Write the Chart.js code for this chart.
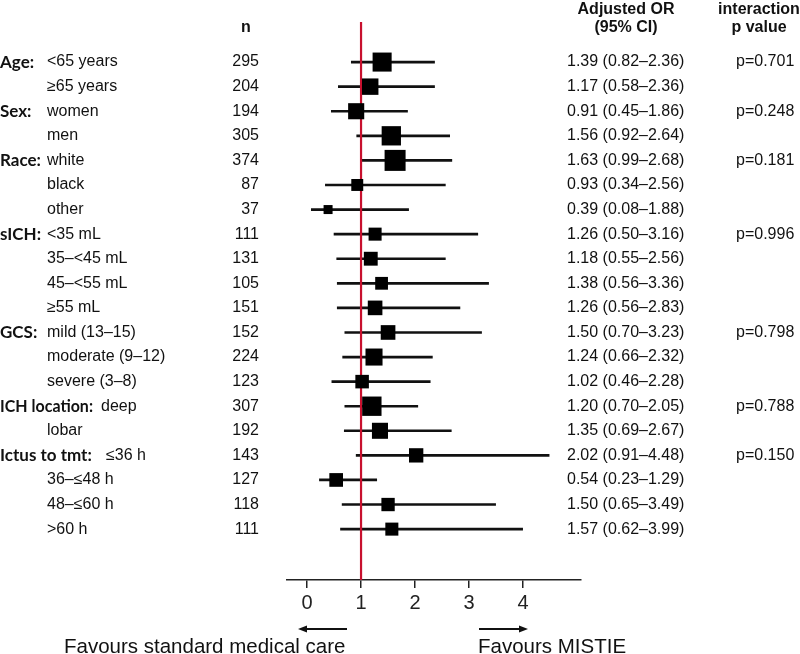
<!DOCTYPE html>
<html>
<head>
<meta charset="utf-8">
<script src="https://cdn.jsdelivr.net/npm/chart.js@4"></script>
<style>
  html, body { margin: 0; padding: 0; background: #fff; }
  #wrap { width: 800px; height: 654px; }
</style>
</head>
<body>
<div id="wrap"><canvas id="forest"></canvas></div>
<script>
// === Subgroup forest plot data ===
const groupLabels = ["Age:", "", "Sex:", "", "Race:", "", "", "sICH:", "", "", "", "GCS:", "", "", "ICH location:", "", "Ictus to tmt:", "", "", ""];
const subLabels = ["<65 years", "≥65 years", "women", "men", "white", "black", "other",
  "<35 mL", "35–<45 mL", "45–<55 mL", "≥55 mL", "mild (13–15)", "moderate (9–12)", "severe (3–8)",
  "deep", "lobar", "≤36 h", "36–≤48 h", "48–≤60 h", ">60 h"];
const nValues = [295, 204, 194, 305, 374, 87, 37, 111, 131, 105, 151, 152, 224, 123, 307, 192, 143, 127, 118, 111];
const orValues = [1.39, 1.17, 0.91, 1.56, 1.63, 0.93, 0.39, 1.26, 1.18, 1.38, 1.26, 1.50, 1.24, 1.02, 1.20, 1.35, 2.02, 0.54, 1.50, 1.57];
const ciLow = [0.82, 0.58, 0.45, 0.92, 0.99, 0.34, 0.08, 0.50, 0.55, 0.56, 0.56, 0.70, 0.66, 0.46, 0.70, 0.69, 0.91, 0.23, 0.65, 0.62];
const ciHigh = [2.36, 2.36, 1.86, 2.64, 2.68, 2.56, 1.88, 3.16, 2.56, 3.36, 2.83, 3.23, 2.32, 2.28, 2.05, 2.67, 4.48, 1.29, 3.49, 3.99];
const pValues = ["p=0.701", "", "p=0.248", "", "p=0.181", "", "", "p=0.996", "", "", "", "p=0.798", "", "", "p=0.788", "", "p=0.150", "", "", ""];
const xTicks = [0, 1, 2, 3, 4];

const rowIdx = subLabels.map((_, i) => i);
const Y_MIN = -1.63, Y_MAX = 21.07;

// box side grows with sqrt(n); 'rect' point side = radius * sqrt(2)
const boxRadius = nValues.map(n => (3.5 + 0.905 * Math.sqrt(n)) / Math.SQRT2);

const ARIAL = "'Liberation Sans', Arial, sans-serif";
// sub-label x where it follows a long group label
const subLabelX = { 14: 101, 16: 106 };
const groupMaxW = { 14: 93 };

// === Text columns, arrows and captions ===
const tablePlugin = {
  id: "tableText",
  afterDraw(chart) {
    const ctx = chart.ctx;
    const y = chart.scales.y;
    ctx.save();
    ctx.fillStyle = "#111";

    // headers
    ctx.font = "bold 16px " + ARIAL;
    ctx.textAlign = "center";
    ctx.textBaseline = "middle";
    ctx.fillText("n", 246, 28);
    ctx.fillText("Adjusted OR", 626, 10);
    ctx.fillText("(95% CI)", 626, 28);
    ctx.fillText("interaction", 759, 10);
    ctx.fillText("p value", 759, 28);

    rowIdx.forEach(i => {
      const py = y.getPixelForValue(i);
      if (groupLabels[i]) {
        ctx.font = "bold 17px Lato, 'Open Sans', sans-serif";
        ctx.textAlign = "left";
        if (groupMaxW[i]) ctx.fillText(groupLabels[i], 0, py, groupMaxW[i]);
        else ctx.fillText(groupLabels[i], 0, py);
      }
      ctx.font = "16px " + ARIAL;
      ctx.textAlign = "left";
      ctx.fillText(subLabels[i], subLabelX[i] || 47, py);
      ctx.textAlign = "right";
      ctx.fillText(String(nValues[i]), 259, py);
      ctx.textAlign = "left";
      ctx.fillText(`${orValues[i].toFixed(2)} (${ciLow[i].toFixed(2)}–${ciHigh[i].toFixed(2)})`, 567, py);
      if (pValues[i]) ctx.fillText(pValues[i], 736, py);
    });

    // direction arrows
    const arrow = (x0, x1, ay) => {
      const dir = Math.sign(x1 - x0);
      ctx.strokeStyle = "#111";
      ctx.lineWidth = 2;
      ctx.beginPath();
      ctx.moveTo(x0, ay);
      ctx.lineTo(x1 - dir * 6, ay);
      ctx.stroke();
      ctx.beginPath();
      ctx.moveTo(x1, ay);
      ctx.lineTo(x1 - dir * 9, ay - 3.5);
      ctx.lineTo(x1 - dir * 9, ay + 3.5);
      ctx.closePath();
      ctx.fill();
    };
    arrow(347, 298, 629);
    arrow(479, 528, 629);

    ctx.font = "20.5px " + ARIAL;
    ctx.textAlign = "left";
    ctx.textBaseline = "alphabetic";
    ctx.fillText("Favours standard medical care", 64, 653);
    ctx.fillText("Favours MISTIE", 478, 653);
    ctx.restore();
  }
};

new Chart(document.getElementById("forest"), {
  type: "scatter",
  data: {
    datasets: [
      {
        // 95% CI whiskers
        type: "bar",
        indexAxis: "y",
        data: rowIdx.map(i => ({ x: [ciLow[i], ciHigh[i]], y: i })),
        backgroundColor: "#111",
        borderWidth: 0,
        barThickness: 2,
        order: 3
      },
      {
        // line of no effect
        type: "line",
        data: [{ x: 1, y: Y_MIN }, { x: 1, y: Y_MAX }],
        borderColor: "#c8102e",
        borderWidth: 2.2,
        pointRadius: 0,
        order: 2
      },
      {
        // point estimates
        type: "scatter",
        data: rowIdx.map(i => ({ x: orValues[i], y: i })),
        pointStyle: "rect",
        pointRadius: boxRadius,
        pointHoverRadius: boxRadius,
        backgroundColor: "#000",
        borderColor: "#000",
        borderWidth: 0,
        order: 1
      }
    ]
  },
  options: {
    responsive: true,
    maintainAspectRatio: false,
    animation: false,
    events: [],
    layout: { padding: { left: 287, right: 219, top: 22, bottom: 0 } },
    plugins: {
      legend: { display: false },
      tooltip: { enabled: false }
    },
    scales: {
      x: {
        type: "linear",
        min: -0.37,
        max: 5.07,
        offset: false,
        afterBuildTicks: s => { s.ticks = xTicks.map(v => ({ value: v })); },
        afterFit: s => { s.height = 74; },
        border: { display: true, color: "#222", width: 1.5 },
        grid: { drawOnChartArea: false, drawTicks: true, tickLength: 8, color: "#222", lineWidth: 1.5 },
        ticks: { color: "#222", font: { family: ARIAL, size: 20 }, padding: 3 }
      },
      y: {
        type: "linear",
        reverse: true,
        min: Y_MIN,
        max: Y_MAX,
        offset: false,
        display: false
      }
    }
  },
  plugins: [tablePlugin]
});
</script>
</body>
</html>
